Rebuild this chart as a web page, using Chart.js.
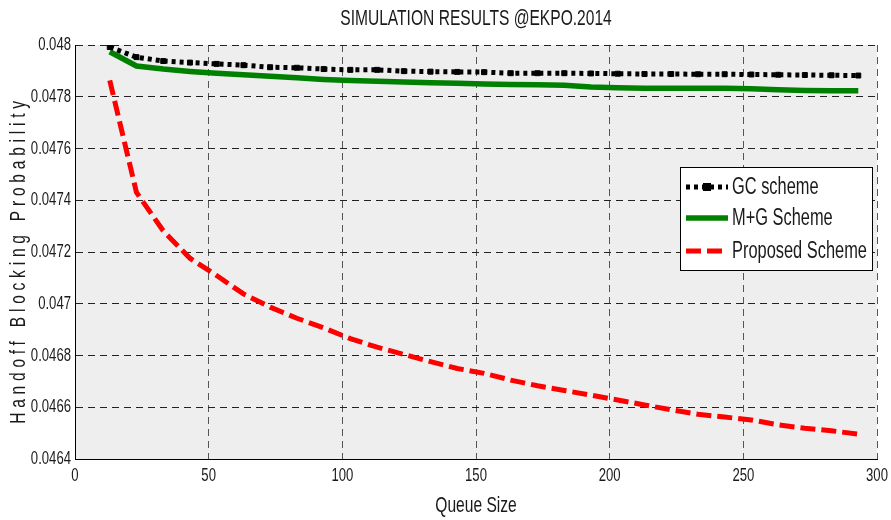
<!DOCTYPE html>
<html>
<head>
<meta charset="utf-8">
<script src="https://cdn.jsdelivr.net/npm/chart.js@4.4.1/dist/chart.umd.min.js"></script>
<style>
  html, body { margin: 0; padding: 0; background: #ffffff; }
  #c { display: block; }
</style>
</head>
<body>
<canvas id="c" width="891" height="520"></canvas>
<script>
// ---- data ----
const chartTitle = 'SIMULATION RESULTS @EKPO.2014';
const xTitle = 'Queue Size';
const yTitle = 'Handoff Blocking Probability';
const seriesNames = ['GC scheme', 'M+G Scheme', 'Proposed Scheme'];
const queueSize = [13, 23, 33, 43, 53, 63, 73, 83, 93, 103, 113, 123, 133, 143, 153, 163, 173, 183, 193, 203, 213, 223, 233, 243, 253, 263, 273, 283, 293];
const gcScheme = [0.047992, 0.047953, 0.047938, 0.047932, 0.047927, 0.047922, 0.047914, 0.047912, 0.047907, 0.047904, 0.047904, 0.047899, 0.047897, 0.047896, 0.047895, 0.047891, 0.047891, 0.047891, 0.047890, 0.047889, 0.047888, 0.047888, 0.047887, 0.047887, 0.047886, 0.047885, 0.047884, 0.047883, 0.047882];
const mgScheme = [0.047974, 0.047919, 0.047907, 0.047898, 0.047891, 0.047885, 0.047879, 0.047873, 0.047867, 0.047863, 0.047860, 0.047857, 0.047854, 0.047852, 0.047849, 0.047847, 0.047846, 0.047844, 0.047838, 0.047835, 0.047833, 0.047833, 0.047833, 0.047833, 0.047831, 0.047827, 0.047824, 0.047823, 0.047823];
const proposedScheme = [0.047863, 0.047430, 0.047282, 0.047176, 0.047109, 0.047038, 0.046987, 0.046944, 0.046907, 0.046865, 0.046832, 0.046804, 0.046776, 0.046750, 0.046731, 0.046705, 0.046683, 0.046665, 0.046647, 0.046628, 0.046609, 0.046590, 0.046573, 0.046562, 0.046551, 0.046532, 0.046519, 0.046509, 0.046496];
const xTicks = [0, 50, 100, 150, 200, 250, 300];
const yTicks = [0.0464, 0.0466, 0.0468, 0.047, 0.0472, 0.0474, 0.0476, 0.0478, 0.048];

// ---- narrow, slightly tall text (emulates the condensed face of the original) ----
const NARROW_X = 0.82;
const TALL_Y = 1.15;
const _fillText = CanvasRenderingContext2D.prototype.fillText;
CanvasRenderingContext2D.prototype.fillText = function (text, x, y, maxWidth) {
  this.save();
  this.translate(x, y);
  this.scale(NARROW_X, TALL_Y);
  if (maxWidth !== undefined && maxWidth !== null) {
    _fillText.call(this, text, 0, 0, maxWidth / NARROW_X);
  } else {
    _fillText.call(this, text, 0, 0);
  }
  this.restore();
};

const FONT = "'Liberation Sans', Arial, sans-serif";
Chart.defaults.font.family = FONT;
Chart.defaults.color = '#1a1a1a';

const toXY = (ys) => queueSize.map((x, i) => ({ x: x, y: ys[i] }));

const bgPlugin = {
  id: 'plotBg',
  beforeDraw(chart) {
    const { ctx, chartArea: a } = chart;
    ctx.save();
    ctx.fillStyle = '#eeeeee';
    ctx.fillRect(a.left, a.top, a.right - a.left, a.bottom - a.top);
    ctx.restore();
  }
};

const titlePlugin = {
  id: 'topTitle',
  afterDraw(chart) {
    const { ctx, chartArea: a } = chart;
    ctx.save();
    ctx.font = '19px ' + FONT;
    ctx.fillStyle = '#1a1a1a';
    ctx.textAlign = 'center';
    ctx.textBaseline = 'middle';
    ctx.fillText(chartTitle, (a.left + a.right) / 2, 19);
    ctx.restore();
  }
};

const legendPlugin = {
  id: 'boxLegend',
  afterDraw(chart) {
    const { ctx } = chart;
    const bx = 680, by = 167, bw = 192, bh = 103;
    ctx.save();
    ctx.fillStyle = '#ffffff';
    ctx.fillRect(bx, by, bw, bh);
    ctx.strokeStyle = '#000000';
    ctx.lineWidth = 1;
    ctx.setLineDash([]);
    ctx.strokeRect(bx + 0.5, by + 0.5, bw, bh);
    const rows = [187, 218, 251];
    chart.data.datasets.forEach((ds, i) => {
      const y = rows[i];
      ctx.save();
      ctx.strokeStyle = ds.borderColor;
      ctx.lineWidth = ds.borderWidth;
      ctx.lineCap = 'butt';
      ctx.setLineDash(ds.borderDash || []);
      ctx.beginPath();
      ctx.moveTo(686, y);
      ctx.lineTo(728, y);
      ctx.stroke();
      ctx.restore();
      if (i === 0) {
        ctx.save();
        ctx.fillStyle = '#000';
        ctx.fillRect(703, y - 4, 8, 8);
        ctx.restore();
      }
      ctx.font = '20px ' + FONT;
      ctx.fillStyle = '#1a1a1a';
      ctx.textAlign = 'left';
      ctx.textBaseline = 'middle';
      ctx.fillText(ds.label, 732, y + 1);
    });
    ctx.restore();
  }
};

const yTitleSpacingPlugin = {
  id: 'yTitleSpacing',
  afterLayout(chart) {
    const s = chart.scales.y;
    if (s && !s._patched) {
      const orig = s.drawTitle;
      s.drawTitle = function () {
        const ctx = this.ctx;
        ctx.save();
        ctx.letterSpacing = '5.8px';
        ctx.translate(0, 8);
        orig.call(this);
        ctx.restore();
      };
      s._patched = true;
    }
  }
};

new Chart(document.getElementById('c'), {
  type: 'line',
  data: {
    datasets: [
      {
        label: seriesNames[0],
        data: toXY(gcScheme),
        borderColor: '#000000',
        backgroundColor: '#000000',
        borderWidth: 5,
        borderDash: [4, 4],
        borderCapStyle: 'butt',
        pointStyle: 'rect',
        pointRadius: 3.5,
        pointBorderWidth: 1,
        pointBackgroundColor: '#000000',
        pointBorderColor: '#000000',
        tension: 0,
        order: 1
      },
      {
        label: seriesNames[1],
        data: toXY(mgScheme),
        borderColor: '#008000',
        backgroundColor: '#008000',
        borderWidth: 5.5,
        pointRadius: 0,
        tension: 0,
        order: 2
      },
      {
        label: seriesNames[2],
        data: toXY(proposedScheme),
        borderColor: '#ff0000',
        backgroundColor: '#ff0000',
        borderWidth: 5,
        borderDash: [15, 6],
        borderCapStyle: 'butt',
        pointRadius: 0,
        tension: 0,
        order: 3
      }
    ]
  },
  options: {
    responsive: false,
    animation: false,
    devicePixelRatio: 1,
    layout: { padding: { left: 0, right: 14, top: 45, bottom: 0 } },
    plugins: {
      legend: { display: false },
      title: { display: false },
      tooltip: { enabled: false }
    },
    scales: {
      x: {
        type: 'linear',
        min: 0,
        max: 300,
        afterBuildTicks: (scale) => { scale.ticks = xTicks.map(v => ({ value: v })); },
        afterFit: (scale) => { scale.height = 61; scale.paddingLeft = 0; scale.paddingRight = 0; },
        ticks: {
          font: { size: 16 },
          color: '#1a1a1a',
          padding: 7,
          maxRotation: 0,
          callback: (v) => String(v)
        },
        grid: { color: '#555555', lineWidth: 1, drawTicks: false },
        border: { display: true, color: '#000000', width: 1, dash: [7, 5] },
        title: {
          display: true,
          text: xTitle,
          font: { size: 19 },
          color: '#1a1a1a',
          padding: { top: 0, bottom: 3 }
        }
      },
      y: {
        type: 'linear',
        min: 0.0464,
        max: 0.048,
        afterBuildTicks: (scale) => { scale.ticks = yTicks.map(v => ({ value: v })); },
        afterFit: (scale) => { scale.width = 75; scale.paddingTop = 0; scale.paddingBottom = 0; },
        ticks: {
          font: { size: 16 },
          color: '#1a1a1a',
          padding: 4,
          callback: (v) => String(parseFloat(Number(v).toFixed(4)))
        },
        grid: { color: '#222222', lineWidth: 1, drawTicks: false },
        border: { display: true, color: '#000000', width: 1, dash: [7, 5] },
        title: {
          display: true,
          text: yTitle,
          font: { size: 19 },
          color: '#1a1a1a',
          padding: { top: 8, bottom: 0 }
        }
      }
    }
  },
  plugins: [bgPlugin, titlePlugin, legendPlugin, yTitleSpacingPlugin]
});
</script>
</body>
</html>
